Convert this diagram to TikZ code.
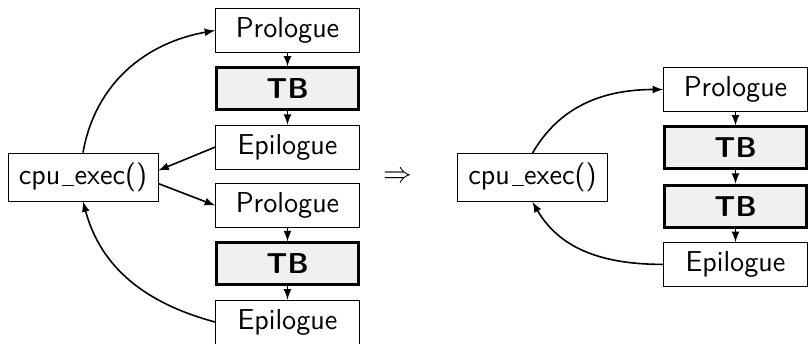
\documentclass[tikz,border=0pt]{standalone}
\usepackage{tikz}
\usetikzlibrary{positioning,shapes,arrows}
\renewcommand{\familydefault}{\sfdefault}
\newcommand{\boxfont}{\fontsize{14.4}{17}\selectfont}
\newcommand{\uscore}{\leavevmode\kern.06em\lower0.6pt\vbox{\hrule width.42em}\kern.02em}
\definecolor{tbgray}{gray}{0.94}
\tikzstyle{blk}=[%
      rectangle, draw=black, thin, fill=white, font=\boxfont,
      minimum height=22pt, minimum width=72pt, inner sep=3pt
]
\tikzstyle{tb}=[%
      rectangle, draw=black, line width=1.4pt, fill=tbgray, font=\boxfont\bfseries,
      minimum height=21pt, minimum width=71pt, inner sep=3pt
]
\tikzstyle{cpu}=[%
      rectangle, draw=black, thin, fill=white, font=\boxfont,
      minimum height=24pt, minimum width=75pt, inner sep=3pt
]

\begin{document}
\begin{tikzpicture}[x=0.5pt, y=0.5pt,
    >=latex,
    node distance=6.75pt
  ]
    \useasboundingbox (0,0) rectangle (808,-343);

    % left: two separate TBs
    \node[cpu] (cpu1) at (83,-177) {cpu\uscore exec()};
    \node[blk] (pro1) at (287.5,-30.5) {Prologue};
    \node[tb]  (tb1)  [below = of pro1] {TB};
    \node[blk] (epi1) [below = of tb1]  {Epilogue};
    \node[blk] (pro2) [below = of epi1] {Prologue};
    \node[tb]  (tb2)  [below = of pro2] {TB};
    \node[blk] (epi2) [below = of tb2]  {Epilogue};

    \node[font=\fontsize{15}{17}\selectfont] (impl) at (398,-177) {$\Rightarrow$};

    % right: chained TBs
    \node[cpu] (cpu2) at (532.5,-177.5) {cpu\uscore exec()};
    \node[blk] (pro3) at (735.5,-89.5) {Prologue};
    \node[tb]  (tb3)  [below = of pro3] {TB};
    \node[tb]  (tb4)  [below = of tb3]  {TB};
    \node[blk] (epi3) [below = of tb4]  {Epilogue};

    \path[->, thick]
          (cpu1.north) edge[out=80, in=190] (pro1.west)
          (pro1) edge (tb1)
          (tb1)  edge (epi1)
          (epi1.west) edge (cpu1.5)
          (cpu1.-5) edge (pro2.west)
          (pro2) edge (tb2)
          (tb2)  edge (epi2)
          (epi2.west) edge[out=165, in=-75] (cpu1.south)
          (cpu2.north) edge[out=60, in=180] (pro3.west)
          (pro3) edge (tb3)
          (tb3)  edge (tb4)
          (tb4)  edge (epi3)
          (epi3.west) edge[out=180, in=-60] (cpu2.south)
    ;
\end{tikzpicture}
\end{document}
